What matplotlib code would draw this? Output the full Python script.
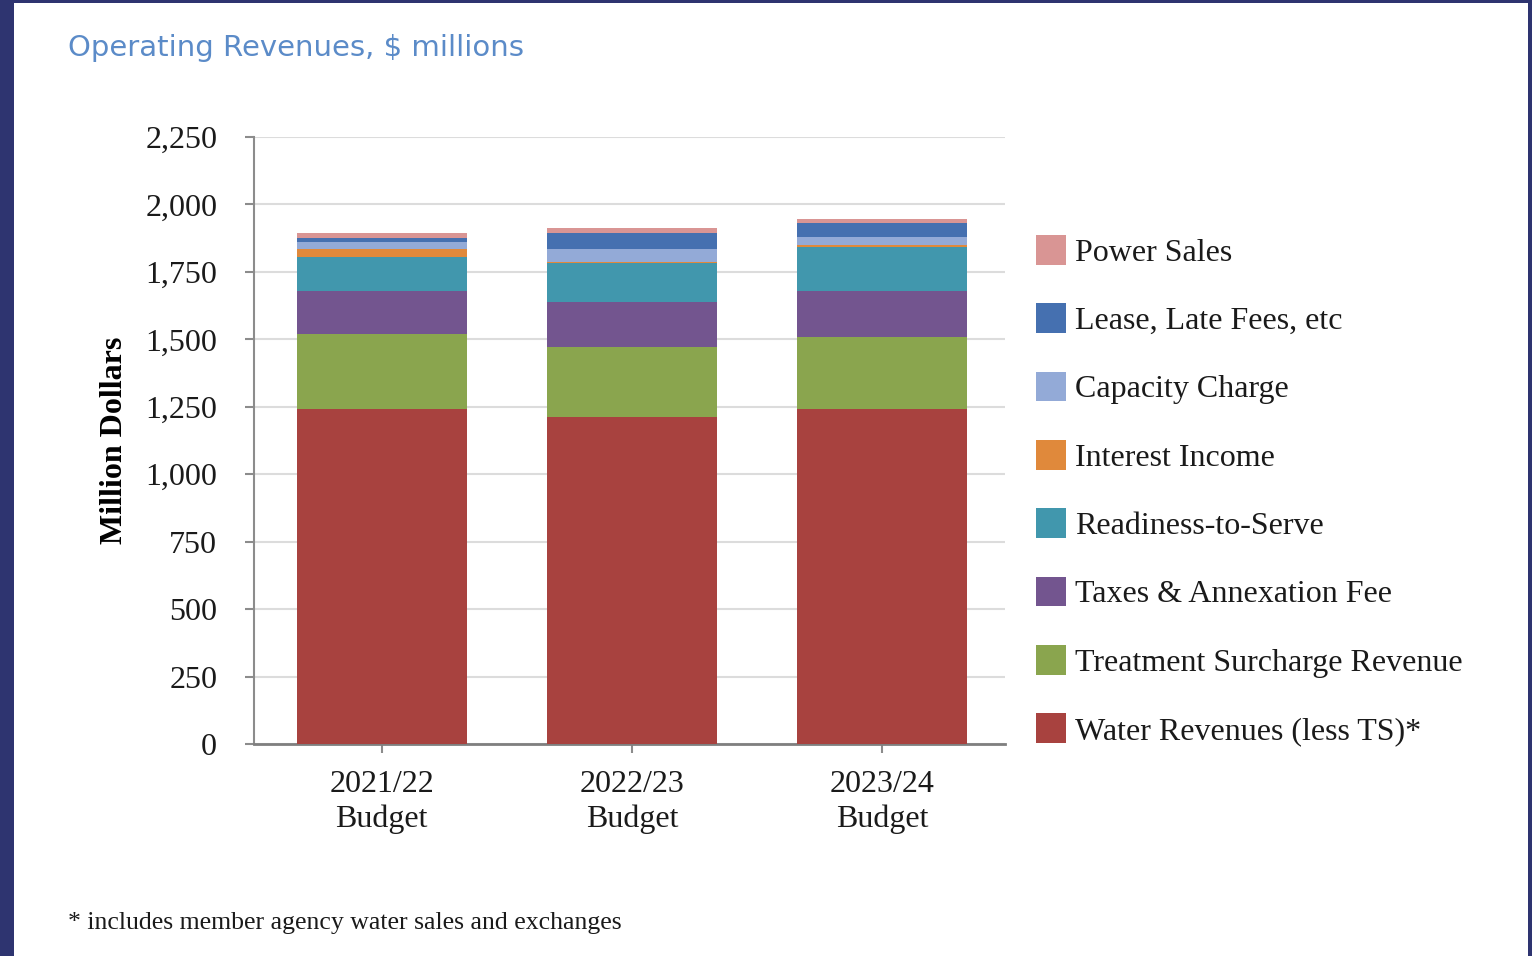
import matplotlib
matplotlib.use("Agg")
import matplotlib.pyplot as plt
from matplotlib.patches import Rectangle
import numpy as np

plt.rcParams['font.family'] = ['Liberation Serif', 'DejaVu Serif']

years = ["2021/22\nBudget", "2022/23\nBudget", "2023/24\nBudget"]

# revenue components, $ millions (bottom of stack first)
water = [1242, 1213, 1241]
treatment = [278, 260, 267]
taxes = [159, 166, 172]
readiness = [126, 143, 163]
interest = [30, 4, 5]
capacity = [27, 48, 32]
lease = [13, 59, 52]
power = [18, 18, 14]

series = [
    ("Water Revenues (less TS)*", water, "#a8423f"),
    ("Treatment Surcharge Revenue", treatment, "#8aa54e"),
    ("Taxes & Annexation Fee", taxes, "#73558f"),
    ("Readiness-to-Serve", readiness, "#4197ad"),
    ("Interest Income", interest, "#e0893b"),
    ("Capacity Charge", capacity, "#93aad7"),
    ("Lease, Late Fees, etc", lease, "#4570b0"),
    ("Power Sales", power, "#d99594"),
]

fig = plt.figure(figsize=(15.32, 9.56), dpi=100)
fig.patch.set_facecolor("#2e3470")
# white page area inside the dark frame
fig.patches.append(Rectangle((14 / 1532, 0), (1528 - 14) / 1532, 1 - 3 / 956,
                             transform=fig.transFigure, facecolor="white",
                             edgecolor="none", zorder=-5))

ax = fig.add_axes([254 / 1532, 1 - 744 / 956, (1005 - 254) / 1532, (744 - 137) / 956])
ax.set_zorder(2)
ax.set_facecolor("none")

x = np.arange(len(years))
bottom = np.zeros(len(years))
for name, vals, color in series:
    ax.bar(x, vals, width=0.68, bottom=bottom, color=color, label=name, zorder=3)
    bottom += np.array(vals)

ax.set_xlim(-0.51, 2.49)
ax.set_ylim(0, 2250)
ax.set_yticks(np.arange(0, 2251, 250))
ax.set_yticklabels([f"{v:,}" for v in range(0, 2251, 250)], fontsize=23, color="#1a1a1a")
ax.set_xticks(x)
ax.set_xticklabels(years, fontsize=23, color="#1a1a1a", linespacing=1.25)
ax.grid(axis="y", color="#dcdcdc", linewidth=1.5, zorder=0)

for side in ["top", "right"]:
    ax.spines[side].set_visible(False)
ax.spines["left"].set_color("#8c8c8c")
ax.spines["left"].set_linewidth(1.5)
ax.spines["bottom"].set_color("#7f7f7f")
ax.spines["bottom"].set_linewidth(2)
ax.tick_params(axis="y", length=6.5, width=1.5, color="#8c8c8c", pad=20)
ax.tick_params(axis="x", length=6.5, width=1.5, color="#8c8c8c", pad=12)

ax.set_ylabel("Million Dollars", fontsize=23, fontweight="bold", labelpad=12)

handles, labels = ax.get_legend_handles_labels()
fig.legend(handles[::-1], labels[::-1], loc="upper left",
           bbox_to_anchor=(1036 / 1532, 1 - 235 / 956), frameon=False,
           fontsize=23, handlelength=0.95, handleheight=1.05, handletextpad=0.28,
           labelspacing=1.115, borderpad=0, borderaxespad=0, labelcolor="#1a1a1a")

fig.text(68 / 1532, 1 - 48 / 956, "Operating Revenues, $ millions", fontsize=21,
         family="DejaVu Sans", color="#5b8bc8", va="center", ha="left")
fig.text(68 / 1532, 1 - 923 / 956, "* includes member agency water sales and exchanges",
         fontsize=18.5, color="#1a1a1a", va="center", ha="left")

fig.savefig("out.png", dpi=100, facecolor=fig.get_facecolor())
